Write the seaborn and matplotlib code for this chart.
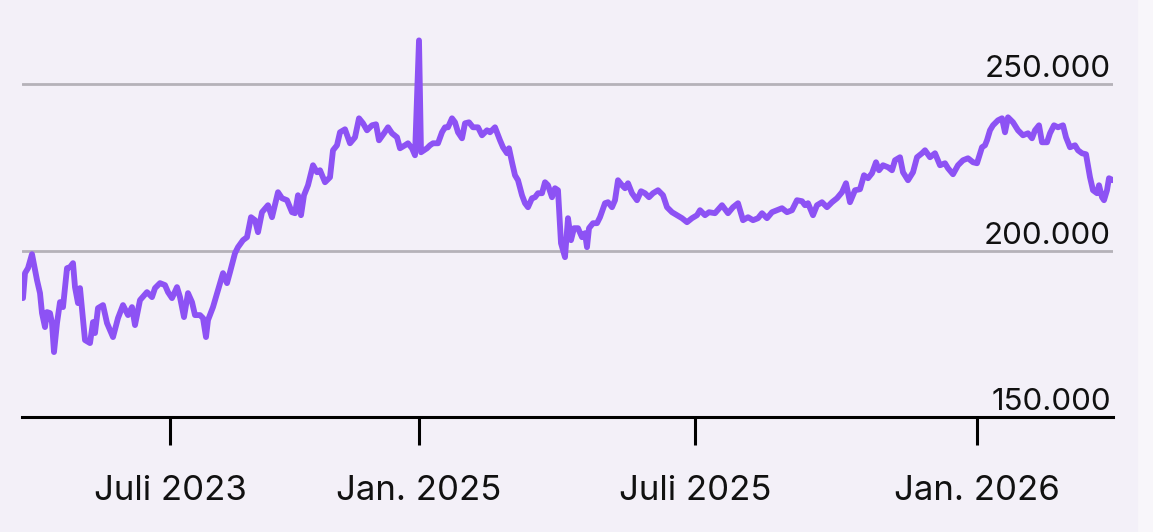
import numpy as np
import pandas as pd
import matplotlib
matplotlib.use("Agg")
import matplotlib.pyplot as plt
import seaborn as sns
from matplotlib.patches import FancyBboxPatch

sns.set_theme(style="white")
plt.rcParams['font.family'] = ['Inter', 'DejaVu Sans']

#%% data (values in thousands)
obs = [1, 3, 6, 10, 15, 18, 20, 23, 25, 28,
       30, 32, 35, 38, 41, 45, 48, 51, 53, 56,
       58, 63, 68, 71, 73, 76, 81, 85, 91, 96,
       101, 106, 110, 113, 118, 125, 130, 133, 138, 143,
       146, 150, 155, 158, 162, 166, 170, 173, 178, 181,
       184, 186, 191, 196, 201, 205, 208, 213, 216, 221,
       225, 229, 233, 236, 240, 246, 250, 256, 260, 265,
       270, 273, 276, 279, 282, 286, 291, 295, 298, 303,
       308, 311, 315, 318, 323, 328, 333, 337, 341, 345,
       350, 354, 357, 362, 366, 370, 375, 378, 383, 386,
       390, 393, 397, 399, 405, 408, 411, 416, 420, 423,
       426, 430, 433, 436, 440, 443, 447, 451, 456, 460,
       465, 468, 473, 478, 481, 485, 487, 490, 493, 496,
       500, 503, 506, 510, 513, 516, 520, 523, 526, 530,
       533, 536, 539, 543, 546, 549, 552, 556, 560, 563,
       565, 567, 571, 575, 578, 583, 586, 590, 593, 596,
       600, 603, 606, 610, 615, 619, 623, 627, 631, 636,
       641, 645, 650, 655, 660, 665, 670, 675, 678, 683,
       687, 693, 700, 706, 711, 716, 721, 726, 731, 736,
       740, 745, 750, 755, 760, 765, 770, 775, 780, 783,
       786, 791, 795, 800, 805, 810, 815, 820, 824, 828,
       833, 838, 842, 846, 850, 854, 857, 861, 866, 870,
       873, 878, 881, 886, 891, 895, 900, 903, 908, 913,
       918, 923, 926, 931, 936, 941, 946, 951, 955, 960,
       963, 965, 968, 971, 976, 980, 983, 986, 991, 996,
       1001, 1006, 1010, 1013, 1017, 1020, 1025, 1028, 1032, 1036,
       1041, 1044, 1048, 1053, 1056, 1060, 1064, 1068, 1071, 1075,
       1077, 1080, 1082, 1085, 1087, 1091]
value_k = [185.7, 193.2, 194.7, 198.9, 191.1, 187.2, 181.2, 177.0, 181.5, 181.2,
           178.2, 169.5, 178.2, 184.5, 183.0, 194.7, 195.0, 196.2, 189.0, 184.2,
           188.7, 173.1, 172.2, 178.5, 175.2, 182.7, 183.6, 178.2, 174.0, 179.7,
           183.6, 180.6, 183.0, 177.6, 185.1, 187.5, 186.0, 188.7, 190.2, 189.6,
           187.5, 185.7, 189.0, 186.0, 180.0, 187.2, 184.5, 180.6, 180.6, 179.7,
           174.0, 179.1, 183.0, 188.1, 193.2, 190.2, 193.5, 199.2, 201.0, 203.1,
           204.0, 210.0, 209.1, 205.5, 211.5, 213.6, 210.0, 217.5, 215.7, 215.1,
           211.5, 211.2, 216.6, 210.6, 216.6, 219.6, 225.6, 223.5, 224.1, 220.5,
           222.0, 230.1, 231.6, 235.5, 236.4, 232.2, 234.0, 239.7, 238.2, 236.1,
           237.6, 237.9, 233.1, 235.2, 237.0, 235.2, 234.0, 230.7, 231.6, 232.2,
           230.7, 228.6, 263.1, 229.5, 230.7, 231.6, 232.2, 232.2, 235.5, 237.0,
           237.0, 239.7, 238.5, 235.5, 233.7, 238.2, 238.5, 237.0, 237.0, 234.6,
           236.1, 235.5, 237.0, 233.1, 231.0, 229.2, 230.7, 226.5, 222.6, 221.1,
           216.6, 214.2, 213.0, 215.7, 216.0, 217.2, 217.2, 220.5, 219.6, 216.0,
           218.7, 218.1, 202.2, 198.0, 209.7, 203.1, 206.7, 206.7, 204.0, 205.2,
           201.0, 206.7, 208.2, 208.2, 210.0, 214.2, 214.5, 213.0, 215.1, 221.1,
           219.6, 218.7, 220.2, 217.2, 215.1, 217.8, 217.2, 216.0, 217.2, 218.1,
           216.6, 213.0, 211.5, 210.6, 209.7, 208.5, 209.7, 210.6, 212.1, 210.6,
           211.5, 211.2, 213.6, 211.2, 213.0, 214.2, 209.1, 210.0, 209.1, 209.7,
           211.2, 209.7, 211.5, 212.1, 212.7, 211.5, 212.1, 215.1, 214.8, 213.6,
           214.2, 210.6, 213.6, 214.5, 213.0, 214.5, 215.7, 217.5, 220.2, 214.5,
           218.1, 218.4, 222.6, 221.7, 223.2, 226.5, 224.1, 225.6, 225.0, 224.1,
           227.1, 228.0, 223.5, 221.1, 223.5, 228.0, 229.2, 230.1, 228.0, 229.2,
           225.6, 226.2, 224.7, 222.9, 225.6, 227.1, 227.7, 226.5, 226.2, 231.0,
           231.6, 233.1, 236.1, 237.6, 239.1, 239.7, 235.5, 240.0, 238.5, 236.1,
           234.6, 235.2, 233.7, 236.1, 237.6, 232.5, 232.5, 235.2, 237.6, 237.0,
           237.6, 234.0, 231.0, 231.6, 230.1, 229.2, 228.9, 222.0, 218.1, 217.2,
           219.6, 216.0, 215.1, 218.1, 221.7, 221.1]
tick_obs = [148, 397, 673, 955]
tick_labels = ["Juli 2023", "Jan. 2025", "Juli 2025", "Jan. 2026"]
grid_values = [150000, 200000, 250000]

df = pd.DataFrame({"obs": obs, "value": np.array(value_k) * 1000})

#%% plot
bg = "#f3f0f8"
fig = plt.figure(figsize=(11.53, 5.32), dpi=100)
fig.patch.set_facecolor("#f8f6fa")
card = FancyBboxPatch((-0.05, -0.05), 1.037, 1.072,
                      boxstyle="round,pad=0,rounding_size=0.02",
                      transform=fig.transFigure, facecolor=bg,
                      edgecolor="none", zorder=-10)
fig.add_artist(card)

ax = fig.add_axes([22 / 1153, 1 - 417 / 532, (1113 - 22) / 1153, 417 / 532])
ax.set_facecolor("none")
ax.set_zorder(5)

for g in grid_values[1:]:
    ax.axhline(g, color="#b5b2b9", lw=2.0, zorder=1)

sns.lineplot(data=df, x="obs", y="value", color="#8d52f4", lw=4.2,
             ax=ax, zorder=3, solid_joinstyle="round", solid_capstyle="round")

ax.set_xlim(0, 1091)
ax.set_ylim(150000, 150000 + 417 * 50000 / 166.5)
ax.set_xlabel("")
ax.set_ylabel("")
ax.set_yticks([])
ax.set_xticks(tick_obs)
ax.set_xticklabels(tick_labels, fontsize=25)
ax.tick_params(axis="x", direction="out", length=20, width=2.2,
               color="black", pad=22, bottom=True, labelcolor="#111111")
for s in ["top", "right", "left"]:
    ax.spines[s].set_visible(False)
ax.spines["bottom"].set_color("black")
ax.spines["bottom"].set_linewidth(2.2)

for g in grid_values:
    ax.annotate(f"{g:,}".replace(",", "."), xy=(1, g),
                xycoords=("axes fraction", "data"),
                xytext=(-1.5, 5), textcoords="offset points",
                ha="right", va="baseline", fontsize=22.5, color="#111111")

plt.savefig("out.png", dpi=100, facecolor=fig.get_facecolor())
